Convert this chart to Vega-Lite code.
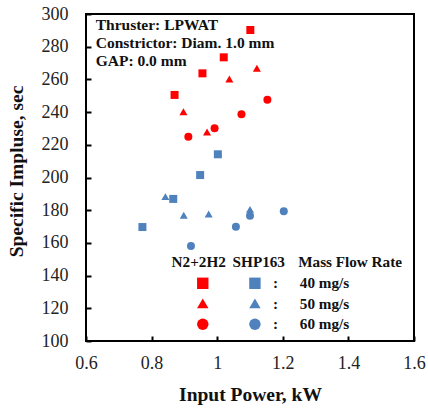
{
  "$schema": "https://vega.github.io/schema/vega-lite/v6.json",
  "width": 328,
  "height": 327,
  "autosize": {"type": "none"},
  "padding": {"left": 86, "top": 14, "right": 14, "bottom": 67},
  "background": "white",
  "config": {
    "view": {"stroke": "#000", "strokeWidth": 2},
    "font": "Liberation Serif"
  },
  "datasets": {
    "points": [
      {"power": 1.101, "isp": 290.2, "fuel": "N2+2H2", "flow": "40 mg/s"},
      {"power": 1.020, "isp": 273.5, "fuel": "N2+2H2", "flow": "40 mg/s"},
      {"power": 0.955, "isp": 263.7, "fuel": "N2+2H2", "flow": "40 mg/s"},
      {"power": 0.870, "isp": 250.5, "fuel": "N2+2H2", "flow": "40 mg/s"},
      {"power": 1.121, "isp": 266.8, "fuel": "N2+2H2", "flow": "50 mg/s"},
      {"power": 1.037, "isp": 260.2, "fuel": "N2+2H2", "flow": "50 mg/s"},
      {"power": 0.897, "isp": 240.2, "fuel": "N2+2H2", "flow": "50 mg/s"},
      {"power": 0.969, "isp": 227.8, "fuel": "N2+2H2", "flow": "50 mg/s"},
      {"power": 1.153, "isp": 247.6, "fuel": "N2+2H2", "flow": "60 mg/s"},
      {"power": 1.074, "isp": 238.7, "fuel": "N2+2H2", "flow": "60 mg/s"},
      {"power": 0.992, "isp": 230.1, "fuel": "N2+2H2", "flow": "60 mg/s"},
      {"power": 0.912, "isp": 225.0, "fuel": "N2+2H2", "flow": "60 mg/s"},
      {"power": 1.002, "isp": 214.2, "fuel": "SHP163", "flow": "40 mg/s"},
      {"power": 0.948, "isp": 201.5, "fuel": "SHP163", "flow": "40 mg/s"},
      {"power": 0.866, "isp": 186.9, "fuel": "SHP163", "flow": "40 mg/s"},
      {"power": 0.772, "isp": 169.7, "fuel": "SHP163", "flow": "40 mg/s"},
      {"power": 0.842, "isp": 188.3, "fuel": "SHP163", "flow": "50 mg/s"},
      {"power": 0.898, "isp": 176.9, "fuel": "SHP163", "flow": "50 mg/s"},
      {"power": 0.974, "isp": 177.7, "fuel": "SHP163", "flow": "50 mg/s"},
      {"power": 1.100, "isp": 180.5, "fuel": "SHP163", "flow": "50 mg/s"},
      {"power": 1.100, "isp": 176.6, "fuel": "SHP163", "flow": "60 mg/s"},
      {"power": 1.203, "isp": 179.3, "fuel": "SHP163", "flow": "60 mg/s"},
      {"power": 1.057, "isp": 169.9, "fuel": "SHP163", "flow": "60 mg/s"},
      {"power": 0.920, "isp": 158.1, "fuel": "SHP163", "flow": "60 mg/s"}
    ],
    "legendSymbols": [
      {"power": 0.956, "isp": 135.3, "fuel": "N2+2H2", "flow": "40 mg/s"},
      {"power": 0.956, "isp": 123.0, "fuel": "N2+2H2", "flow": "50 mg/s"},
      {"power": 0.956, "isp": 110.2, "fuel": "N2+2H2", "flow": "60 mg/s"},
      {"power": 1.115, "isp": 135.3, "fuel": "SHP163", "flow": "40 mg/s"},
      {"power": 1.115, "isp": 123.0, "fuel": "SHP163", "flow": "50 mg/s"},
      {"power": 1.115, "isp": 110.2, "fuel": "SHP163", "flow": "60 mg/s"}
    ],
    "legendText": [
      {"power": 0.861, "isp": 148.1, "label": "N2+2H2"},
      {"power": 1.047, "isp": 148.1, "label": "SHP163"},
      {"power": 1.247, "isp": 148.1, "label": "Mass Flow Rate"},
      {"power": 1.170, "isp": 135.3, "label": ":"},
      {"power": 1.170, "isp": 122.6, "label": ":"},
      {"power": 1.170, "isp": 110.4, "label": ":"},
      {"power": 1.252, "isp": 135.3, "label": "40 mg/s"},
      {"power": 1.252, "isp": 122.6, "label": "50 mg/s"},
      {"power": 1.252, "isp": 110.4, "label": "60 mg/s"}
    ],
    "notes": [
      {"power": 0.6296, "isp": 293.3, "label": "Thruster:  LPWAT"},
      {"power": 0.6296, "isp": 282.1, "label": "Constrictor:  Diam. 1.0 mm"},
      {"power": 0.6296, "isp": 271.3, "label": "GAP:  0.0 mm"}
    ]
  },
  "encoding": {
    "x": {
      "field": "power", "type": "quantitative",
      "scale": {"domain": [0.6, 1.6], "nice": false, "zero": false},
      "axis": {
        "title": "Input Power, kW",
        "values": [0.6, 0.8, 1.0, 1.2, 1.4, 1.6],
        "format": "~g",
        "grid": false,
        "ticks": true,
        "zindex": 1,
        "offset": -5,
        "domain": false,
        "tickColor": "#000", "tickWidth": 2, "tickSize": 5,
        "labelFont": "Liberation Serif", "labelFontSize": 18, "labelColor": "#222",
        "labelPadding": 13, "labelFlush": false, "labelOverlap": false,
        "titleFont": "Liberation Serif", "titleFontSize": 19.5, "titleFontWeight": "bold", "titleColor": "#111",
        "titleBaseline": "alphabetic", "titleY": 64
      }
    },
    "y": {
      "field": "isp", "type": "quantitative",
      "scale": {"domain": [100, 300], "nice": false, "zero": false},
      "axis": {
        "title": "Specific Impluse, sec",
        "values": [100, 120, 140, 160, 180, 200, 220, 240, 260, 280, 300],
        "grid": false,
        "ticks": true,
        "zindex": 1,
        "offset": -5,
        "domain": false,
        "tickColor": "#000", "tickWidth": 2, "tickSize": 5,
        "labelFont": "Liberation Serif", "labelFontSize": 18, "labelColor": "#222",
        "labelPadding": 18, "labelFlush": false, "labelOverlap": false,
        "titleFont": "Liberation Serif", "titleFontSize": 19.5, "titleFontWeight": "bold", "titleColor": "#111",
        "titleBaseline": "alphabetic", "titleX": -69, "titleY": 157
      }
    }
  },
  "layer": [
    {
      "data": {"name": "points"},
      "mark": {"type": "point", "filled": true, "opacity": 1, "size": 64},
      "encoding": {
        "color": {
          "field": "fuel", "type": "nominal",
          "scale": {"domain": ["N2+2H2", "SHP163"], "range": ["#ff0000", "#4f81bd"]},
          "legend": null
        },
        "shape": {
          "field": "flow", "type": "nominal",
          "scale": {"domain": ["40 mg/s", "50 mg/s", "60 mg/s"], "range": ["square", "triangle-up", "circle"]},
          "legend": null
        }
      }
    },
    {
      "data": {"name": "legendSymbols"},
      "mark": {"type": "point", "filled": true, "opacity": 1, "size": 130},
      "encoding": {
        "color": {"field": "fuel", "type": "nominal", "legend": null},
        "shape": {"field": "flow", "type": "nominal", "legend": null}
      }
    },
    {
      "data": {"name": "legendText"},
      "mark": {"type": "text", "align": "left", "baseline": "middle", "font": "Liberation Serif", "fontSize": 15.2, "fontWeight": "bold", "color": "#111"},
      "encoding": {
        "text": {"field": "label", "type": "nominal"}
      }
    },
    {
      "data": {"name": "notes"},
      "mark": {"type": "text", "align": "left", "baseline": "middle", "font": "Liberation Serif", "fontSize": 15.5, "fontWeight": "bold", "color": "#111"},
      "encoding": {
        "text": {"field": "label", "type": "nominal"}
      }
    }
  ]
}
